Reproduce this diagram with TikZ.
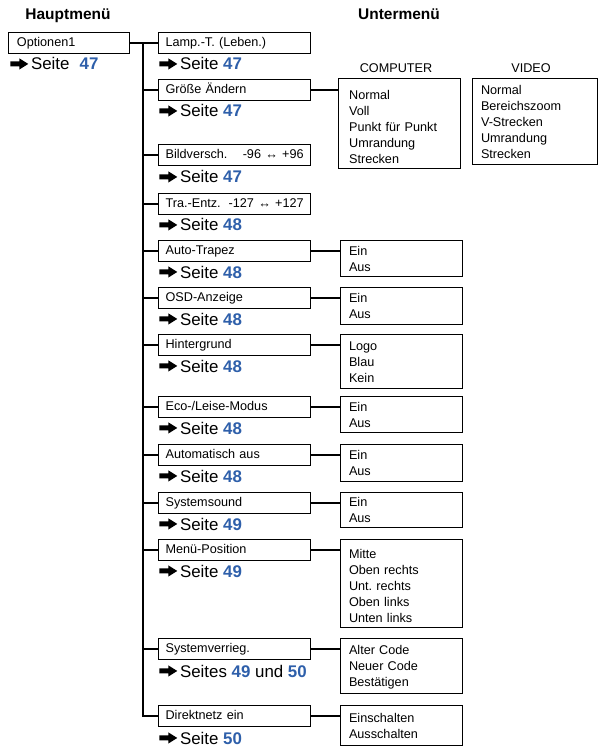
\documentclass[tikz,border=0pt]{standalone}
\usepackage{fontspec}
\setmainfont{Liberation Sans}
\frenchspacing
\definecolor{seiteblau}{RGB}{46,95,170}
\newcommand{\px}{0.025cm}
\newcommand{\pfeil}{\tikz[baseline=-4.3pt]\fill (0pt,-1.8pt) -- (6.4pt,-1.8pt) -- (6.4pt,-4pt) -- (12.8pt,0pt) -- (6.4pt,4pt) -- (6.4pt,1.8pt) -- (0pt,1.8pt) -- cycle;}
\newcommand{\nr}[1]{\textcolor{seiteblau}{\bfseries #1}}
\newcommand{\seitenr}[1]{\pfeil\hspace{2pt}Seite \nr{#1}}

\begin{document}
\begin{tikzpicture}[x=0.025cm, y=-0.025cm,
    kopf/.style={font=\fontsize{11}{13}\selectfont\bfseries, anchor=base, inner sep=0pt},
    hauptbox/.style={draw, line width=0.8pt, anchor=north west, text width=2.6cm, inner xsep=6pt, inner ysep=0pt, minimum height=21*\px, font=\fontsize{9}{11.4}\selectfont, align=left, execute at begin node=\strut, execute at end node=\strut},
    unterbox/.style={hauptbox, text width=3.45cm, inner xsep=5pt},
    wahlbox/.style={hauptbox, text width=2.63cm, execute at begin node={\rule{0pt}{#1}}},
    wahlbox/.default=10pt,
    titel/.style={font=\fontsize{9}{11}\selectfont, anchor=base, inner sep=0pt},
    seite/.style={anchor=base west, inner sep=0pt, font=\fontsize{12}{14}\selectfont},
    verbind/.style={line width=1pt},
]
\useasboundingbox (0,0) rectangle (600,747);

% Kopfzeile
\node[kopf] (hm) at (68,20) {Hauptmenü};
\node[kopf] (um) at (399,20) {Untermenü};

% Hauptmenue
\node[hauptbox] (h1) at (8,32) {Optionen1};
\node[seite] (p0) at (10,70) {\pfeil\hspace{2pt}Seite\hspace{0.6em}\nr{47}};

% Untermenue
\node[unterbox] (s1)  at (158,32)  {Lamp.-T. (Leben.)};
\node[unterbox] (s2)  at (158,79)  {Größe Ändern};
\node[unterbox] (s3)  at (158,144) {Bildversch.\hfill-96 ↔ +96};
\node[unterbox] (s4)  at (158,193) {Tra.-Entz.\hfill-127 ↔ +127};
\node[unterbox] (s5)  at (158,240) {Auto-Trapez};
\node[unterbox] (s6)  at (158,287) {OSD-Anzeige};
\node[unterbox] (s7)  at (158,334) {Hintergrund};
\node[unterbox] (s8)  at (158,396) {Eco-/Leise-Modus};
\node[unterbox] (s9)  at (158,444) {Automatisch aus};
\node[unterbox] (s10) at (158,492) {Systemsound};
\node[unterbox] (s11) at (158,539) {Menü-Position};
\node[unterbox] (s12) at (158,638) {Systemverrieg.};
\node[unterbox] (s13) at (158,705) {Direktnetz ein};

\node[seite] (p1)  at (159,70)  {\seitenr{47}};
\node[seite] (p2)  at (159,117) {\seitenr{47}};
\node[seite] (p3)  at (159,183) {\seitenr{47}};
\node[seite] (p4)  at (159,231) {\seitenr{48}};
\node[seite] (p5)  at (159,278) {\seitenr{48}};
\node[seite] (p6)  at (159,325) {\seitenr{48}};
\node[seite] (p7)  at (159,372) {\seitenr{48}};
\node[seite] (p8)  at (159,434) {\seitenr{48}};
\node[seite] (p9)  at (159,482) {\seitenr{48}};
\node[seite] (p10) at (159,530) {\seitenr{49}};
\node[seite] (p11) at (159,577) {\seitenr{49}};
\node[seite] (p12) at (159,677) {\pfeil\hspace{2pt}Seites \nr{49} und \nr{50}};
\node[seite] (p13) at (159,744) {\seitenr{50}};

% Auswahl
\node[titel] (lc) at (396,73) {COMPUTER};
\node[titel] (lv) at (531,73) {VIDEO};
\node[wahlbox=15pt, text width=2.51cm, inner xsep=7.5pt, minimum height=87*\px] (wc) at (338,78) {Normal\\Voll\\Punkt für Punkt\\Umrandung\\Strecken};
\node[wahlbox=11pt, text width=2.70cm, minimum height=86*\px] (wv) at (472,78) {Normal\\Bereichszoom\\V-Strecken\\Umrandung\\Strecken};
\node[wahlbox, minimum height=36*\px] (w5)  at (340,240) {Ein\\Aus};
\node[wahlbox, minimum height=37*\px] (w6)  at (340,287) {Ein\\Aus};
\node[wahlbox, minimum height=54*\px] (w7)  at (340,334) {Logo\\Blau\\Kein};
\node[wahlbox, minimum height=36*\px] (w8)  at (340,396) {Ein\\Aus};
\node[wahlbox, minimum height=37*\px] (w9)  at (340,444) {Ein\\Aus};
\node[wahlbox, minimum height=35*\px] (w10) at (340,492) {Ein\\Aus};
\node[wahlbox=13.6pt, minimum height=85*\px] (w11) at (340,539) {Mitte\\Oben rechts\\Unt. rechts\\Oben links\\Unten links};
\node[wahlbox, minimum height=55*\px] (w12) at (340,638) {Alter Code\\Neuer Code\\Bestätigen};
\node[wahlbox, minimum height=40*\px] (w13) at (340,705) {Einschalten\\Ausschalten};

% Linien
\coordinate (stamm) at (143,0);
\draw[verbind] (h1.east) -- (s1.west);
\draw[verbind] (stamm |- s1.west) |- (s13.west);
\draw[verbind] (stamm |- s2.west) -- (s2.west);
\draw[verbind] (stamm |- s3.west) -- (s3.west);
\draw[verbind] (stamm |- s4.west) -- (s4.west);
\draw[verbind] (stamm |- s5.west) -- (s5.west);
\draw[verbind] (stamm |- s6.west) -- (s6.west);
\draw[verbind] (stamm |- s7.west) -- (s7.west);
\draw[verbind] (stamm |- s8.west) -- (s8.west);
\draw[verbind] (stamm |- s9.west) -- (s9.west);
\draw[verbind] (stamm |- s10.west) -- (s10.west);
\draw[verbind] (stamm |- s11.west) -- (s11.west);
\draw[verbind] (stamm |- s12.west) -- (s12.west);

\draw[verbind] (s2.east) -- (s2.east -| wc.west);
\draw[verbind] (s5.east) -- (s5.east -| w5.west);
\draw[verbind] (s6.east) -- (s6.east -| w6.west);
\draw[verbind] (s7.east) -- (s7.east -| w7.west);
\draw[verbind] (s8.east) -- (s8.east -| w8.west);
\draw[verbind] (s9.east) -- (s9.east -| w9.west);
\draw[verbind] (s10.east) -- (s10.east -| w10.west);
\draw[verbind] (s11.east) -- (s11.east -| w11.west);
\draw[verbind] (s12.east) -- (s12.east -| w12.west);
\draw[verbind] (s13.east) -- (s13.east -| w13.west);
\end{tikzpicture}
\end{document}
